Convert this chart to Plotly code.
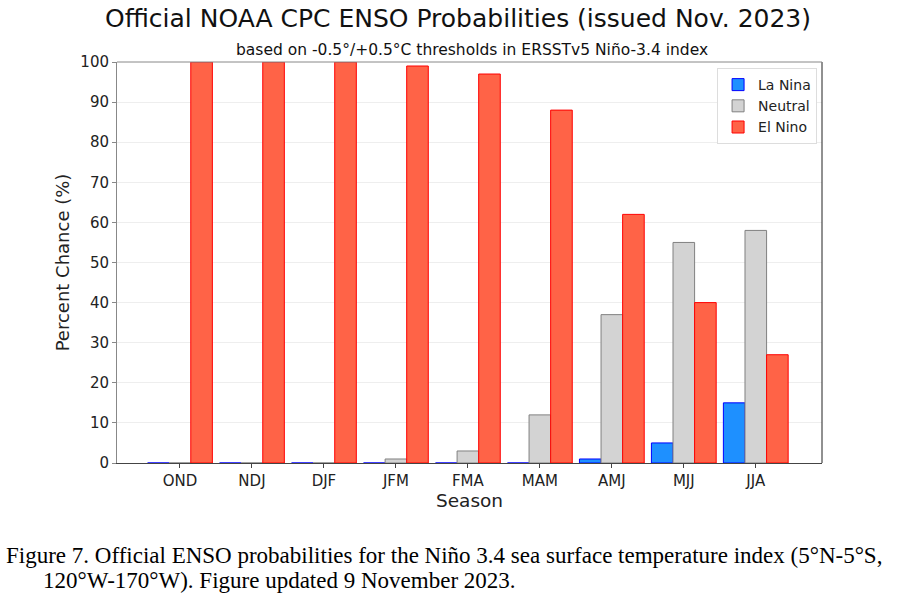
import plotly.graph_objects as go

seasons = ["OND", "NDJ", "DJF", "JFM", "FMA", "MAM", "AMJ", "MJJ", "JJA"]
la_nina = [0, 0, 0, 0, 0, 0, 1, 5, 15]
neutral = [0, 0, 0, 1, 3, 12, 37, 55, 58]
el_nino = [100, 100, 100, 99, 97, 88, 62, 40, 27]

fig = go.Figure()
fig.add_trace(go.Bar(x=seasons, y=la_nina, name="La Nina",
                     marker=dict(color="#1E90FF", line=dict(color="#0000FF", width=1))))
fig.add_trace(go.Bar(x=seasons, y=neutral, name="Neutral",
                     marker=dict(color="#D3D3D3", line=dict(color="#808080", width=1))))
fig.add_trace(go.Bar(x=seasons, y=el_nino, name="El Nino",
                     marker=dict(color="#FF6347", line=dict(color="#FF0000", width=1))))

L, R, T, B = 117, 77, 62, 144
W, H = 899, 607
pw = W - L - R

fig.update_layout(
    width=W, height=H,
    margin=dict(l=L, r=R, t=T, b=B),
    paper_bgcolor="white", plot_bgcolor="white",
    barmode="group", bargap=0.1, bargroupgap=0,
    font=dict(family="DejaVu Sans", color="#222222", size=15),
    showlegend=True,
    legend=dict(x=0.993, y=0.985, xanchor="right", yanchor="top",
                bgcolor="white", bordercolor="#dddddd", borderwidth=1,
                font=dict(size=14, family="DejaVu Sans"), tracegroupgap=0,
                itemwidth=30),
    xaxis=dict(range=[-0.875, 8.92], showline=True, linecolor="#444444", linewidth=1,
               mirror=False, ticks="outside", ticklen=4, tickcolor="#444444",
               tickfont=dict(size=15), title=dict(text="Season", font=dict(size=18.5), standoff=0),
               showgrid=False),
    yaxis=dict(range=[0, 100], dtick=10, showline=True, linecolor="#888888", linewidth=1,
               ticks="outside", ticklen=4, tickcolor="#888888", tickfont=dict(size=15),
               showgrid=True, gridcolor="#eeeeee", gridwidth=1, zeroline=False,
               title=dict(text="Percent Chance (%)", font=dict(size=18), standoff=6)),
    shapes=[
        dict(type="line", xref="paper", yref="paper", x0=1, x1=1, y0=0, y1=1,
             line=dict(color="#222222", width=1)),
        dict(type="line", xref="paper", yref="paper", x0=0, x1=1, y0=1, y1=1,
             line=dict(color="#888888", width=1)),
    ],
    annotations=[
        dict(text="Official NOAA CPC ENSO Probabilities (issued Nov. 2023)",
             xref="paper", yref="paper", x=(458 - L) / pw, y=1, yshift=44,
             xanchor="center", yanchor="middle", showarrow=False,
             font=dict(size=25, family="DejaVu Sans", color="#111111")),
        dict(text="based on -0.5°/+0.5°C thresholds in ERSSTv5 Niño-3.4 index",
             xref="paper", yref="paper", x=(472 - L) / pw, y=1, yshift=12,
             xanchor="center", yanchor="middle", showarrow=False,
             font=dict(size=15.5, family="DejaVu Sans", color="#111111")),
        dict(text="Figure 7. Official ENSO probabilities for the Niño 3.4 sea surface temperature index (5°N-5°S,",
             xref="paper", yref="paper", x=(4 - L) / pw, y=0, yshift=-(555 - 463),
             xanchor="left", yanchor="middle", showarrow=False,
             font=dict(size=23, family="Liberation Serif", color="#000000")),
        dict(text="120°W-170°W). Figure updated 9 November 2023.",
             xref="paper", yref="paper", x=(41 - L) / pw, y=0, yshift=-(580 - 463),
             xanchor="left", yanchor="middle", showarrow=False,
             font=dict(size=23, family="Liberation Serif", color="#000000")),
    ],
)

fig.write_html("out.html")
